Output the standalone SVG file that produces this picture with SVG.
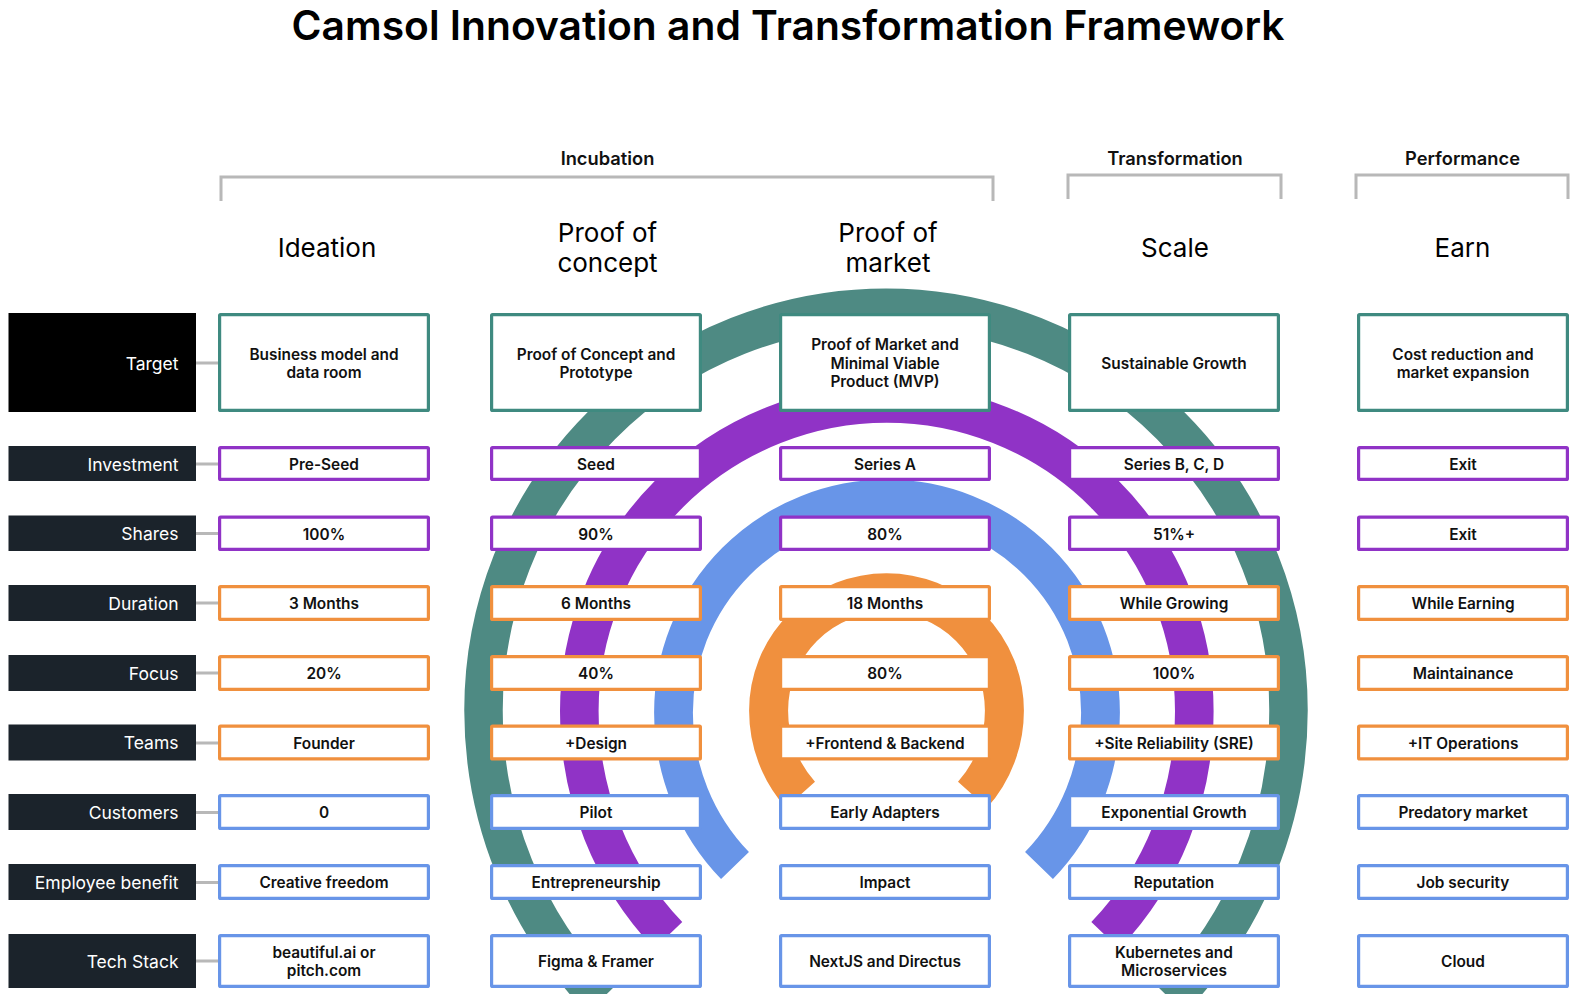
<svg xmlns="http://www.w3.org/2000/svg" width="1582" height="994" viewBox="0 0 1582 994">
<style>
text{font-family:Inter,"Liberation Sans",sans-serif;fill:#000}
.title{font-size:40.75px;font-weight:600;text-anchor:middle}
.phase{font-size:18.3px;font-weight:600;text-anchor:middle;fill:#111}
.head{font-size:26px;font-weight:400;text-anchor:middle}
.v{font-size:15.4px;font-weight:600;text-anchor:middle;fill:#111}
.l{font-size:17.5px;font-weight:400;text-anchor:end;fill:#fff}
.lb{fill:#1b232b}
.lk{fill:#000}
.b{fill:#fff;stroke-width:3.2}
.t{stroke:#3f8a80}.p{stroke:#9033c6}.o{stroke:#f0903e}.u{stroke:#6895e8}
.arc{fill:none}
.brk{fill:none;stroke:#b8b8b8;stroke-width:3}
.con{stroke:#b8b8b8;stroke-width:3}
</style>
<rect width="1582" height="994" fill="#fff"/>
<text class="title" x="788" y="40">Camsol Innovation and Transformation Framework</text>
<g id="phases">
<path class="brk" d="M221 201V177H993V201"/>
<path class="brk" d="M1068 199V175H1281V199"/>
<path class="brk" d="M1356 199V175H1568V199"/>
<text class="phase" x="607.500" y="165">Incubation</text>
<text class="phase" x="1175" y="165">Transformation</text>
<text class="phase" x="1462.500" y="165">Performance</text>
</g>
<g id="stages">
<text class="head" x="327" y="257">Ideation</text>
<text class="head" x="607.500" y="242">Proof of</text><text class="head" x="607.500" y="272">concept</text>
<text class="head" x="888" y="242">Proof of</text><text class="head" x="888" y="272">market</text>
<text class="head" x="1175" y="257">Scale</text>
<text class="head" x="1462.500" y="257">Earn</text>
</g>
<g id="rings">
<path class="arc" stroke="#4e8a83" stroke-width="38.5" d="M601 999.700A402.500 410 0 0 1 483.500 710.200A402.500 402.500 0 0 1 1288.500 710.200A402.500 410 0 0 1 1171 999.700"/>
<path class="arc" stroke="#9033c6" stroke-width="38.6" d="M668.300 935.400A307.500 319 0 0 1 579.300 711A307.500 307.500 0 0 1 1194.300 711A307.500 319 0 0 1 1105.300 935.400"/>
<path class="arc" stroke="#6895e8" stroke-width="38.8" d="M735 865.500A213.500 217.900 0 0 1 673.500 712.500A213.500 213.500 0 0 1 1100.500 712.500A213.500 217.900 0 0 1 1039 865.500"/>
<path class="arc" stroke="#f0903e" stroke-width="39" d="M800.500 794.800A117.900 123 0 0 1 768.600 710.500A117.900 117.900 0 0 1 1004.400 710.500A117.900 123 0 0 1 972.500 794.800"/>
</g>
<g id="connectors">
<path class="con" d="M196 363H218M196 464H218M196 533.500H218M196 603H218M196 673H218M196 743H218M196 812.500H218M196 882.500H218M196 961H218"/>
</g>
<g id="row-target">
<g id="label-target"><rect class="lk" x="8.500" y="313" width="187.500" height="99"/><text class="l" x="178.500" y="370">Target</text></g>
<g id="target-1"><rect class="b t" x="219.600" y="314.600" width="208.800" height="95.800" rx="1"/><text class="v" x="324" y="360">Business model and</text><text class="v" x="324" y="378">data room</text></g>
<g id="target-2"><rect class="b t" x="491.600" y="314.600" width="208.800" height="95.800" rx="1"/><text class="v" x="596" y="360">Proof of Concept and</text><text class="v" x="596" y="378">Prototype</text></g>
<g id="target-3"><rect class="b t" x="780.600" y="314.600" width="208.800" height="95.800" rx="1"/><text class="v" x="885" y="350">Proof of Market and</text><text class="v" x="885" y="369">Minimal Viable</text><text class="v" x="885" y="387">Product (MVP)</text></g>
<g id="target-4"><rect class="b t" x="1069.600" y="314.600" width="208.800" height="95.800" rx="1"/><text class="v" x="1174" y="369">Sustainable Growth</text></g>
<g id="target-5"><rect class="b t" x="1358.600" y="314.600" width="208.800" height="95.800" rx="1"/><text class="v" x="1463" y="360">Cost reduction and</text><text class="v" x="1463" y="378">market expansion</text></g>
</g>
<g id="row-investment">
<g id="label-investment"><rect class="lb" x="8.500" y="446" width="187.500" height="35"/><text class="l" x="178.500" y="471">Investment</text></g>
<g id="investment-1"><rect class="b p" x="219.600" y="447.600" width="208.800" height="31.800" rx="1"/><text class="v" x="324" y="470">Pre-Seed</text></g>
<g id="investment-2"><rect class="b p" x="491.600" y="447.600" width="208.800" height="31.800" rx="1"/><text class="v" x="596" y="470">Seed</text></g>
<g id="investment-3"><rect class="b p" x="780.600" y="447.600" width="208.800" height="31.800" rx="1"/><text class="v" x="885" y="470">Series A</text></g>
<g id="investment-4"><rect class="b p" x="1069.600" y="447.600" width="208.800" height="31.800" rx="1"/><text class="v" x="1174" y="470">Series B, C, D</text></g>
<g id="investment-5"><rect class="b p" x="1358.600" y="447.600" width="208.800" height="31.800" rx="1"/><text class="v" x="1463" y="470">Exit</text></g>
</g>
<g id="row-shares">
<g id="label-shares"><rect class="lb" x="8.500" y="515.500" width="187.500" height="35.500"/><text class="l" x="178.500" y="540">Shares</text></g>
<g id="shares-1"><rect class="b p" x="219.600" y="517.100" width="208.800" height="32.300" rx="1"/><text class="v" x="324" y="540">100%</text></g>
<g id="shares-2"><rect class="b p" x="491.600" y="517.100" width="208.800" height="32.300" rx="1"/><text class="v" x="596" y="540">90%</text></g>
<g id="shares-3"><rect class="b p" x="780.600" y="517.100" width="208.800" height="32.300" rx="1"/><text class="v" x="885" y="540">80%</text></g>
<g id="shares-4"><rect class="b p" x="1069.600" y="517.100" width="208.800" height="32.300" rx="1"/><text class="v" x="1174" y="540">51%+</text></g>
<g id="shares-5"><rect class="b p" x="1358.600" y="517.100" width="208.800" height="32.300" rx="1"/><text class="v" x="1463" y="540">Exit</text></g>
</g>
<g id="row-duration">
<g id="label-duration"><rect class="lb" x="8.500" y="585" width="187.500" height="36"/><text class="l" x="178.500" y="609.500">Duration</text></g>
<g id="duration-1"><rect class="b o" x="219.600" y="586.600" width="208.800" height="32.800" rx="1"/><text class="v" x="324" y="609">3 Months</text></g>
<g id="duration-2"><rect class="b o" x="491.600" y="586.600" width="208.800" height="32.800" rx="1"/><text class="v" x="596" y="609">6 Months</text></g>
<g id="duration-3"><rect class="b o" x="780.600" y="586.600" width="208.800" height="32.800" rx="1"/><text class="v" x="885" y="609">18 Months</text></g>
<g id="duration-4"><rect class="b o" x="1069.600" y="586.600" width="208.800" height="32.800" rx="1"/><text class="v" x="1174" y="609">While Growing</text></g>
<g id="duration-5"><rect class="b o" x="1358.600" y="586.600" width="208.800" height="32.800" rx="1"/><text class="v" x="1463" y="609">While Earning</text></g>
</g>
<g id="row-focus">
<g id="label-focus"><rect class="lb" x="8.500" y="655" width="187.500" height="36"/><text class="l" x="178.500" y="680">Focus</text></g>
<g id="focus-1"><rect class="b o" x="219.600" y="656.600" width="208.800" height="32.800" rx="1"/><text class="v" x="324" y="678.500">20%</text></g>
<g id="focus-2"><rect class="b o" x="491.600" y="656.600" width="208.800" height="32.800" rx="1"/><text class="v" x="596" y="678.500">40%</text></g>
<g id="focus-3"><rect class="b o" x="780.600" y="656.600" width="208.800" height="32.800" rx="1"/><text class="v" x="885" y="678.500">80%</text></g>
<g id="focus-4"><rect class="b o" x="1069.600" y="656.600" width="208.800" height="32.800" rx="1"/><text class="v" x="1174" y="678.500">100%</text></g>
<g id="focus-5"><rect class="b o" x="1358.600" y="656.600" width="208.800" height="32.800" rx="1"/><text class="v" x="1463" y="678.500">Maintainance</text></g>
</g>
<g id="row-teams">
<g id="label-teams"><rect class="lb" x="8.500" y="724.500" width="187.500" height="36"/><text class="l" x="178.500" y="749">Teams</text></g>
<g id="teams-1"><rect class="b o" x="219.600" y="726.100" width="208.800" height="32.800" rx="1"/><text class="v" x="324" y="749">Founder</text></g>
<g id="teams-2"><rect class="b o" x="491.600" y="726.100" width="208.800" height="32.800" rx="1"/><text class="v" x="596" y="749">+Design</text></g>
<g id="teams-3"><rect class="b o" x="780.600" y="726.100" width="208.800" height="32.800" rx="1"/><text class="v" x="885" y="749">+Frontend &amp; Backend</text></g>
<g id="teams-4"><rect class="b o" x="1069.600" y="726.100" width="208.800" height="32.800" rx="1"/><text class="v" x="1174" y="749">+Site Reliability (SRE)</text></g>
<g id="teams-5"><rect class="b o" x="1358.600" y="726.100" width="208.800" height="32.800" rx="1"/><text class="v" x="1463" y="749">+IT Operations</text></g>
</g>
<g id="row-customers">
<g id="label-customers"><rect class="lb" x="8.500" y="794" width="187.500" height="36"/><text class="l" x="178.500" y="819">Customers</text></g>
<g id="customers-1"><rect class="b u" x="219.600" y="795.600" width="208.800" height="32.800" rx="1"/><text class="v" x="324" y="818">0</text></g>
<g id="customers-2"><rect class="b u" x="491.600" y="795.600" width="208.800" height="32.800" rx="1"/><text class="v" x="596" y="818">Pilot</text></g>
<g id="customers-3"><rect class="b u" x="780.600" y="795.600" width="208.800" height="32.800" rx="1"/><text class="v" x="885" y="818">Early Adapters</text></g>
<g id="customers-4"><rect class="b u" x="1069.600" y="795.600" width="208.800" height="32.800" rx="1"/><text class="v" x="1174" y="818">Exponential Growth</text></g>
<g id="customers-5"><rect class="b u" x="1358.600" y="795.600" width="208.800" height="32.800" rx="1"/><text class="v" x="1463" y="818">Predatory market</text></g>
</g>
<g id="row-employee">
<g id="label-employee"><rect class="lb" x="8.500" y="864" width="187.500" height="36"/><text class="l" x="178.500" y="889">Employee benefit</text></g>
<g id="employee-1"><rect class="b u" x="219.600" y="865.600" width="208.800" height="32.800" rx="1"/><text class="v" x="324" y="887.500">Creative freedom</text></g>
<g id="employee-2"><rect class="b u" x="491.600" y="865.600" width="208.800" height="32.800" rx="1"/><text class="v" x="596" y="887.500">Entrepreneurship</text></g>
<g id="employee-3"><rect class="b u" x="780.600" y="865.600" width="208.800" height="32.800" rx="1"/><text class="v" x="885" y="887.500">Impact</text></g>
<g id="employee-4"><rect class="b u" x="1069.600" y="865.600" width="208.800" height="32.800" rx="1"/><text class="v" x="1174" y="887.500">Reputation</text></g>
<g id="employee-5"><rect class="b u" x="1358.600" y="865.600" width="208.800" height="32.800" rx="1"/><text class="v" x="1463" y="887.500">Job security</text></g>
</g>
<g id="row-tech">
<g id="label-tech"><rect class="lb" x="8.500" y="934" width="187.500" height="54"/><text class="l" x="178.500" y="967.500">Tech Stack</text></g>
<g id="tech-1"><rect class="b u" x="219.600" y="935.600" width="208.800" height="50.800" rx="1"/><text class="v" x="324" y="958">beautiful.ai or</text><text class="v" x="324" y="976">pitch.com</text></g>
<g id="tech-2"><rect class="b u" x="491.600" y="935.600" width="208.800" height="50.800" rx="1"/><text class="v" x="596" y="966.500">Figma &amp; Framer</text></g>
<g id="tech-3"><rect class="b u" x="780.600" y="935.600" width="208.800" height="50.800" rx="1"/><text class="v" x="885" y="966.500">NextJS and Directus</text></g>
<g id="tech-4"><rect class="b u" x="1069.600" y="935.600" width="208.800" height="50.800" rx="1"/><text class="v" x="1174" y="958">Kubernetes and</text><text class="v" x="1174" y="976">Microservices</text></g>
<g id="tech-5"><rect class="b u" x="1358.600" y="935.600" width="208.800" height="50.800" rx="1"/><text class="v" x="1463" y="966.500">Cloud</text></g>
</g>
</svg>
